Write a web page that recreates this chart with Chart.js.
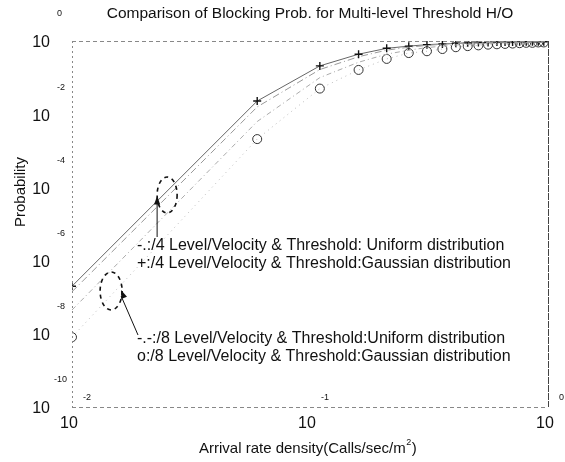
<!DOCTYPE html>
<html>
<head>
<meta charset="utf-8">
<script src="https://cdn.jsdelivr.net/npm/chart.js@4.4.0/dist/chart.umd.min.js"></script>
<style>
html, body { margin: 0; padding: 0; background: #fff; }
</style>
</head>
<body>
<canvas id="myChart" width="565" height="462"></canvas>
<script>
// Arrival rate density (Calls/sec/m^2)
const arrivalRate = [0.01, 0.06, 0.11, 0.16, 0.21, 0.26, 0.31, 0.36, 0.41, 0.46,
                     0.51, 0.56, 0.61, 0.66, 0.71, 0.76, 0.81, 0.86, 0.91, 0.96];

// Blocking probability per series
const uniform4 = [1.41e-7, 0.0158, 0.166, 0.372, 0.562, 0.676, 0.759, 0.813, 0.851, 0.871,
                  0.891, 0.912, 0.912, 0.933, 0.933, 0.933, 0.955, 0.955, 0.955, 0.955];
const gauss4 = [2.0e-7, 0.0229, 0.209, 0.436, 0.631, 0.724, 0.794, 0.832, 0.871, 0.891,
                0.912, 0.912, 0.933, 0.933, 0.933, 0.955, 0.955, 0.955, 0.955, 0.955];
const uniform8 = [4.47e-8, 0.00631, 0.100, 0.263, 0.437, 0.562, 0.661, 0.724, 0.776, 0.813,
                  0.832, 0.851, 0.871, 0.891, 0.891, 0.912, 0.912, 0.933, 0.933, 0.933];
const gauss8 = [8.1e-9, 0.00209, 0.0501, 0.162, 0.324, 0.468, 0.525, 0.603, 0.676, 0.724,
                0.759, 0.794, 0.813, 0.832, 0.851, 0.871, 0.891, 0.891, 0.912, 0.912];

// Tick labels (shown as 10 with exponent)
const yTickExps = ['0', '-2', '-4', '-6', '-8', '-10'];
const yTickVals = [1, 1e-2, 1e-4, 1e-6, 1e-8, 1e-10];
const xTickExps = ['-2', '-1', '0'];
const xTickVals = [0.01, 0.1, 1];

const titleText = 'Comparison of Blocking Prob. for Multi-level Threshold H/O';
const noteLines = [
  '-.:/4 Level/Velocity & Threshold: Uniform distribution',
  '+:/4 Level/Velocity & Threshold:Gaussian distribution',
  '-.-:/8 Level/Velocity & Threshold:Uniform distribution',
  'o:/8 Level/Velocity & Threshold:Gaussian distribution'
];

const pts = arr => arr.map((v, i) => ({ x: arrivalRate[i], y: v }));
const FONT = '"Liberation Sans", Arial, sans-serif';

function arrowHead(ctx, x0, y0, x1, y1) {
  const a = Math.atan2(y1 - y0, x1 - x0);
  ctx.beginPath();
  ctx.moveTo(x1, y1);
  ctx.lineTo(x1 - 9 * Math.cos(a - 0.35), y1 - 9 * Math.sin(a - 0.35));
  ctx.lineTo(x1 - 9 * Math.cos(a + 0.35), y1 - 9 * Math.sin(a + 0.35));
  ctx.closePath();
  ctx.fill();
}

const decor = {
  id: 'decor',
  afterDraw(chart) {
    const ctx = chart.ctx, a = chart.chartArea;
    const xs = chart.scales.x, ys = chart.scales.y;
    ctx.save();

    // axes box
    ctx.strokeStyle = '#888';
    ctx.lineWidth = 1;
    ctx.setLineDash([4, 3]);
    ctx.beginPath();
    ctx.moveTo(a.left, a.top + 0.5); ctx.lineTo(a.right, a.top + 0.5);
    ctx.moveTo(a.left, a.bottom + 0.5); ctx.lineTo(a.right, a.bottom + 0.5);
    ctx.stroke();
    ctx.setLineDash([2, 3]);
    ctx.beginPath();
    ctx.moveTo(a.left + 0.5, a.top); ctx.lineTo(a.left + 0.5, a.bottom);
    ctx.stroke();
    ctx.strokeStyle = '#444';
    ctx.setLineDash([7, 1]);
    ctx.beginPath();
    ctx.moveTo(a.right + 0.5, a.top); ctx.lineTo(a.right + 0.5, a.bottom);
    ctx.stroke();
    ctx.setLineDash([]);

    // tick labels
    ctx.fillStyle = '#111';
    yTickVals.forEach((v, i) => {
      const y = ys.getPixelForValue(v);
      ctx.font = '16px ' + FONT;
      ctx.textAlign = 'right'; ctx.textBaseline = 'middle';
      ctx.fillText('10', 50, y + 2);
      ctx.font = '9px ' + FONT;
      ctx.textAlign = 'left';
      ctx.fillText(yTickExps[i], yTickExps[i].length > 2 ? 54 : 57, y - 27);
    });
    xTickVals.forEach((v, i) => {
      const x = xs.getPixelForValue(v);
      ctx.font = '16px ' + FONT;
      ctx.textAlign = 'center'; ctx.textBaseline = 'middle';
      ctx.fillText('10', x - 3, 424);
      ctx.font = '9px ' + FONT;
      ctx.textAlign = 'left';
      ctx.fillText(xTickExps[i], x + 11, 398);
    });

    // title and axis titles
    ctx.font = '15.5px ' + FONT;
    ctx.textAlign = 'center'; ctx.textBaseline = 'middle';
    ctx.fillText(titleText, 310, 14);
    ctx.font = '15px ' + FONT;
    const xl = 'Arrival rate density(Calls/sec/m';
    const w = ctx.measureText(xl).width;
    ctx.textAlign = 'left';
    ctx.fillText(xl, 199, 449);
    ctx.font = '9px ' + FONT;
    ctx.fillText('2', 199 + w + 0.5, 443);
    ctx.font = '15px ' + FONT;
    ctx.fillText(')', 199 + w + 6, 449);
    ctx.save();
    ctx.translate(21, 192);
    ctx.rotate(-Math.PI / 2);
    ctx.textAlign = 'center';
    ctx.fillText('Probability', 0, 0);
    ctx.restore();

    // notes
    ctx.font = '16px ' + FONT;
    ctx.textAlign = 'left';
    ctx.fillText(noteLines[0], 137, 246);
    ctx.fillText(noteLines[1], 137, 264);
    ctx.fillText(noteLines[2], 137, 339);
    ctx.fillText(noteLines[3], 137, 357);

    // ellipses around the curves
    const e1x = xs.getPixelForValue(0.0251), e1y = ys.getPixelForValue(6.2e-5);
    const e2x = xs.getPixelForValue(0.0146), e2y = ys.getPixelForValue(1.48e-7);
    ctx.strokeStyle = '#111';
    ctx.lineWidth = 1.6;
    ctx.setLineDash([4, 4]);
    ctx.beginPath(); ctx.ellipse(e1x, e1y, 10, 18, 0, 0, Math.PI * 2); ctx.stroke();
    ctx.beginPath(); ctx.ellipse(e2x, e2y, 11, 19, 0, 0, Math.PI * 2); ctx.stroke();
    ctx.setLineDash([]);

    // arrows
    ctx.lineWidth = 1;
    ctx.fillStyle = '#111';
    ctx.beginPath(); ctx.moveTo(e1x - 10, 237); ctx.lineTo(e1x - 10, 202); ctx.stroke();
    arrowHead(ctx, e1x - 10, 237, e1x - 10, 196);
    ctx.beginPath(); ctx.moveTo(138, 335); ctx.lineTo(e2x + 10, 296); ctx.stroke();
    arrowHead(ctx, 138, 335, e2x + 10, 290);

    ctx.restore();
  }
};

const ctx = document.getElementById('myChart').getContext('2d');
const chart = new Chart(ctx, {
  type: 'line',
  data: {
    datasets: [
      {
        label: '4 Level Uniform',
        data: pts(uniform4),
        borderColor: '#999', borderWidth: 1, borderDash: [7, 3, 1, 3],
        pointRadius: 0, fill: false, tension: 0
      },
      {
        label: '8 Level Uniform',
        data: pts(uniform8),
        borderColor: '#aaa', borderWidth: 1, borderDash: [5, 3, 1, 3],
        pointRadius: 0, fill: false, tension: 0
      },
      {
        label: '8 Level Gaussian',
        data: pts(gauss8),
        borderColor: '#bbb', borderWidth: 1, borderDash: [1, 4],
        pointStyle: 'circle', pointRadius: 4.5, pointBorderColor: '#333',
        pointBackgroundColor: 'rgba(0,0,0,0)', pointBorderWidth: 1,
        fill: false, tension: 0
      },
      {
        label: '4 Level Gaussian',
        data: pts(gauss4),
        borderColor: '#666', borderWidth: 1,
        pointStyle: 'cross', pointRadius: 4, pointBorderColor: '#111',
        pointBorderWidth: 1.4, fill: false, tension: 0
      }
    ]
  },
  options: {
    responsive: false,
    animation: false,
    layout: { padding: { left: 72, right: 17, top: 41, bottom: 55 } },
    plugins: { legend: { display: false }, tooltip: { enabled: false } },
    scales: {
      x: { type: 'logarithmic', min: 0.01, max: 1, display: false },
      y: { type: 'logarithmic', min: 1e-10, max: 1, display: false }
    }
  },
  plugins: [decor]
});
</script>
</body>
</html>
